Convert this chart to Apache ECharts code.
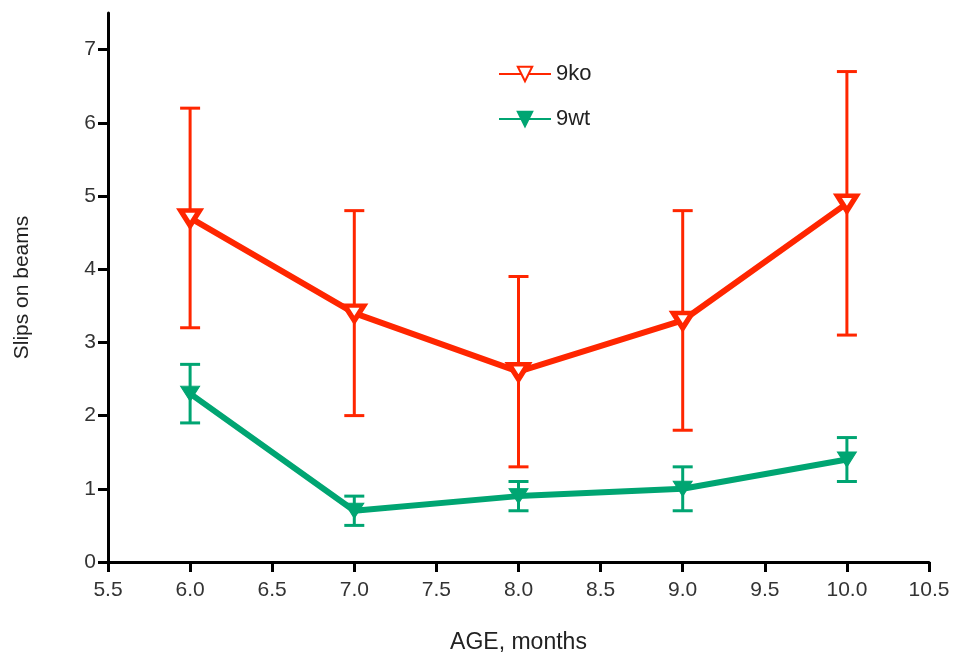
<!DOCTYPE html>
<html>
<head>
<meta charset="utf-8">
<script src="https://cdn.jsdelivr.net/npm/echarts@6/dist/echarts.min.js"></script>
<style>
  html, body { margin: 0; padding: 0; background: #fff; }
  #myChart { width: 957px; height: 657px; }
</style>
</head>
<body>
<div id="myChart"></div>
<script>
// 数据
var ages = [6.0, 7.0, 8.0, 9.0, 10.0];
var koMean = [4.7, 3.4, 2.6, 3.3, 4.9];
var koHigh = [6.2, 4.8, 3.9, 4.8, 6.7];
var koLow = [3.2, 2.0, 1.3, 1.8, 3.1];
var wtMean = [2.3, 0.7, 0.9, 1.0, 1.4];
var wtHigh = [2.7, 0.9, 1.1, 1.3, 1.7];
var wtLow = [1.9, 0.5, 0.7, 0.7, 1.1];
var yTicks = [0, 1, 2, 3, 4, 5, 6, 7];

var RED = "#ff2600";
var GREEN = "#00a572";

function pairs(ys) {
  return ages.map(function (x, i) { return [x, ys[i]]; });
}

function errData(low, high) {
  return ages.map(function (x, i) { return [x, low[i], high[i]]; });
}

// 误差线
function errRender(color) {
  return function (params, api) {
    var lo = api.coord([api.value(0), api.value(1)]);
    var hi = api.coord([api.value(0), api.value(2)]);
    var half = 10;
    var style = { stroke: color, lineWidth: 3 };
    return {
      type: "group",
      children: [
        { type: "line", shape: { x1: lo[0], y1: lo[1], x2: hi[0], y2: hi[1] }, style: style },
        { type: "line", shape: { x1: hi[0] - half, y1: hi[1], x2: hi[0] + half, y2: hi[1] }, style: style },
        { type: "line", shape: { x1: lo[0] - half, y1: lo[1], x2: lo[0] + half, y2: lo[1] }, style: style }
      ]
    };
  };
}

var myChart = echarts.init(document.getElementById("myChart"));
myChart.setOption({
  animation: false,
  textStyle: { fontFamily: "Liberation Sans, Arial, sans-serif" },
  grid: { left: 108, right: 28, top: 13, bottom: 95, outerBoundsMode: "none", containLabel: false },
  legend: {
    orient: "vertical",
    left: 493,
    top: 58,
    itemWidth: 52,
    itemHeight: 18,
    itemGap: 23,
    data: ["9ko", "9wt"],
    textStyle: { fontSize: 22, color: "#222", padding: [0, 0, 0, 0] }
  },
  xAxis: {
    type: "value",
    min: 5.5,
    max: 10.5,
    interval: 0.5,
    name: "AGE, months",
    nameLocation: "middle",
    nameGap: 69,
    nameTextStyle: { fontSize: 23, color: "#222" },
    splitLine: { show: false },
    axisLine: { onZero: false, lineStyle: { color: "#000", width: 3 } },
    axisTick: { length: 10, lineStyle: { color: "#000", width: 3 } },
    axisLabel: {
      fontSize: 21,
      color: "#333",
      margin: 18,
      formatter: function (v) { return v.toFixed(1); }
    }
  },
  yAxis: {
    type: "value",
    min: 0,
    max: 7.5,
    name: "Slips on beams",
    nameLocation: "middle",
    nameGap: 75,
    nameTextStyle: { fontSize: 21, color: "#222" },
    splitLine: { show: false },
    axisLine: { onZero: false, lineStyle: { color: "#000", width: 3 } },
    axisTick: { length: 10, customValues: yTicks, lineStyle: { color: "#000", width: 3 } },
    axisLabel: { fontSize: 21, color: "#333", margin: 12, customValues: yTicks }
  },
  series: [
    {
      name: "ko-err",
      type: "custom",
      renderItem: errRender(RED),
      encode: { x: 0, y: [1, 2] },
      data: errData(koLow, koHigh),
      z: 1
    },
    {
      name: "wt-err",
      type: "custom",
      renderItem: errRender(GREEN),
      encode: { x: 0, y: [1, 2] },
      data: errData(wtLow, wtHigh),
      z: 1
    },
    {
      name: "9ko",
      type: "line",
      data: pairs(koMean),
      symbol: "triangle",
      symbolRotate: 180,
      symbolSize: [19, 15],
      showAllSymbol: true,
      lineStyle: { color: RED, width: 6 },
      itemStyle: { color: "#fff", borderColor: RED, borderWidth: 5 },
      z: 3
    },
    {
      name: "9wt",
      type: "line",
      data: pairs(wtMean),
      symbol: "triangle",
      symbolRotate: 180,
      symbolSize: [19, 15],
      showAllSymbol: true,
      lineStyle: { color: GREEN, width: 6 },
      itemStyle: { color: GREEN, borderColor: GREEN, borderWidth: 1 },
      z: 3
    }
  ]
});
</script>
</body>
</html>
